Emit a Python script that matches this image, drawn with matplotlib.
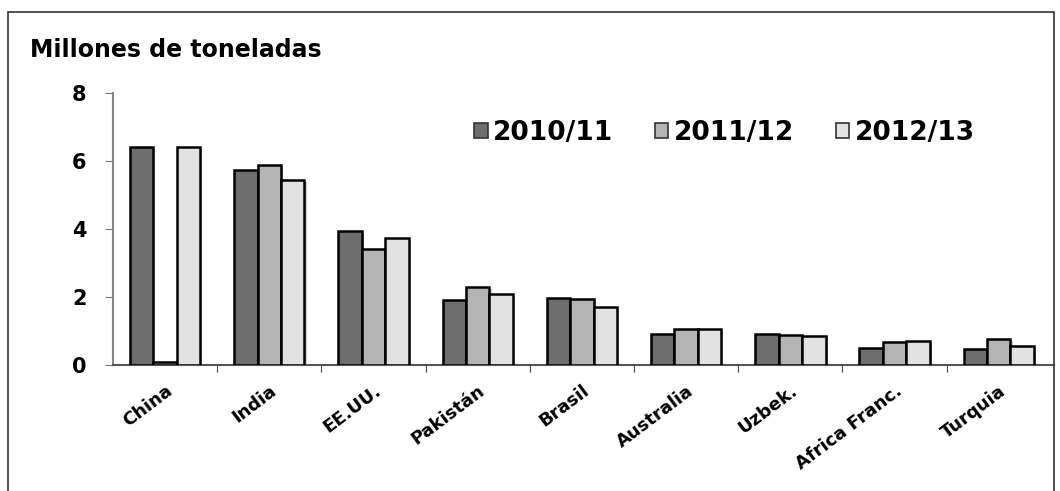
import numpy as np
import matplotlib.pyplot as plt
import matplotlib.patheffects as pe
from matplotlib.patches import Rectangle

# datos (millones de toneladas)
paises = ["China", "India", "EE.UU.", "Pakistán", "Brasil", "Australia",
          "Uzbek.", "Africa Franc.", "Turquia"]
campanas = ["2010/11", "2011/12", "2012/13"]
v_2010 = [6.4, 5.75, 3.95, 1.9, 1.97, 0.9, 0.9, 0.5, 0.47]
v_2011 = [0.1, 5.88, 3.4, 2.3, 1.95, 1.05, 0.88, 0.68, 0.76]
v_2012 = [6.4, 5.45, 3.75, 2.1, 1.7, 1.07, 0.86, 0.7, 0.55]
colores = ["#6e6e6e", "#b4b4b4", "#e2e2e2"]

plt.rcParams["font.family"] = ["DejaVu Sans"]

fig = plt.figure(figsize=(10.6, 4.91), dpi=100)
W, H = 1060, 491

# marco exterior
fig.patches.append(Rectangle((8 / W, -0.05), 1046 / W, 1 - 12 / H + 0.05,
                             transform=fig.transFigure, fill=False,
                             edgecolor="#333333", linewidth=1.2))

ax = fig.add_axes([113 / W, 1 - 365 / H, 941 / W, 272 / H])
ax.set_facecolor("none")
x = np.arange(len(paises)) + 0.5
ancho = 0.225
sombra = [pe.SimplePatchShadow(offset=(1.5, -1.5), shadow_rgbFace="#999999",
                               alpha=0.5), pe.Normal()]
for i, (vals, lab) in enumerate(zip([v_2010, v_2011, v_2012], campanas)):
    barras = ax.bar(x + (i - 1) * ancho, vals, ancho, color=colores[i],
                    edgecolor="black", linewidth=1.8, label=lab, zorder=3)
    for b in barras:
        b.set_path_effects(sombra)

ax.set_xlim(0, 9.03)
ax.set_ylim(0, 8)
ax.set_yticks([0, 2, 4, 6, 8])
ax.set_xticks(np.arange(1, len(paises)))
ax.set_xticks(x, minor=True)
ax.set_xticklabels([])
ax.set_xticklabels(paises, minor=True, rotation=37, ha="right",
                   rotation_mode="anchor", fontsize=13, fontweight="bold")
ax.tick_params(axis="x", which="minor", length=0, pad=12)
ax.tick_params(axis="x", which="major", direction="out", length=5,
               color="#444444")
ax.tick_params(axis="y", direction="out", length=6, color="#777777",
               labelsize=15, pad=13)
for t in ax.get_yticklabels():
    t.set_fontweight("bold")

for s in ["top", "right"]:
    ax.spines[s].set_visible(False)
ax.spines["left"].set_color("#888888")
ax.spines["bottom"].set_color("#555555")
ax.spines["left"].set_linewidth(1.5)
ax.spines["bottom"].set_linewidth(1.5)

leg = ax.legend(loc="center left", bbox_to_anchor=(0.384, 0.853), ncol=3,
                frameon=False, prop={"weight": "bold", "size": 19},
                handlelength=0.5, handleheight=0.45, handletextpad=0.2,
                columnspacing=1.6, borderpad=0, borderaxespad=0)
for h in leg.legend_handles:
    h.set_linewidth(1.2)
    h.set_edgecolor("#333333")
    h.set_path_effects([])

fig.text(30 / W, 1 - 50 / H, "Millones de toneladas", fontsize=17,
         fontweight="bold", va="center", ha="left")

fig.savefig("out.png", dpi=100)
